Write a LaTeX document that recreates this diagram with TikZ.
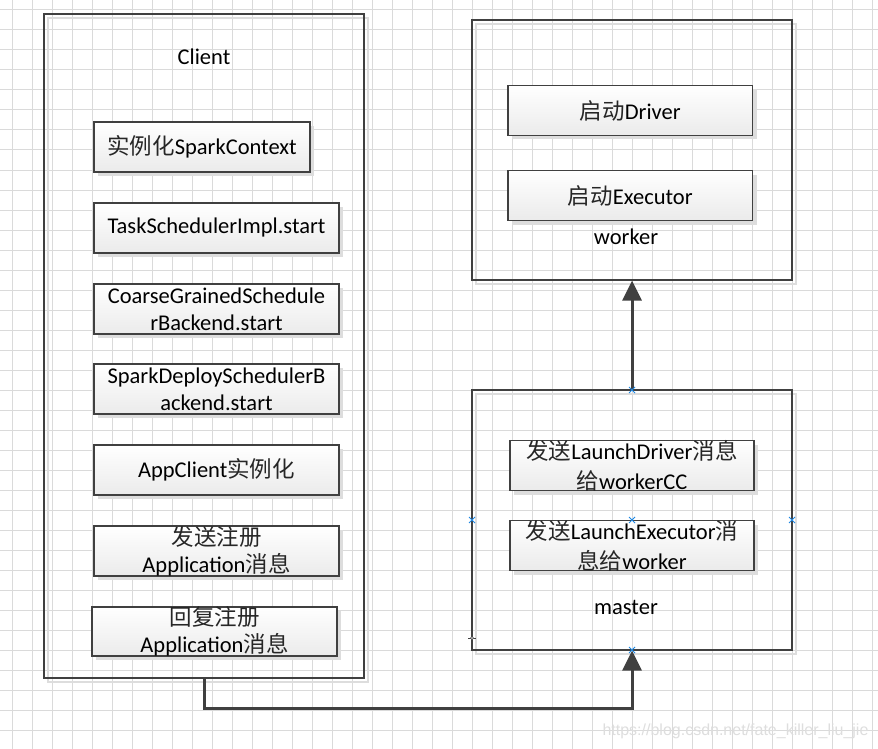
\documentclass[tikz,border=0pt]{standalone}
\usepackage{fontspec}
\setmainfont{Carlito}
\newfontfamily\cjk{Noto Sans CJK SC}
\newfontfamily\wmfont{Liberation Sans}
\usetikzlibrary{arrows.meta,shadows}
\definecolor{edge}{HTML}{404040}
\definecolor{gridc}{HTML}{DADADA}
\definecolor{shade}{HTML}{DDDDDD}
\definecolor{markblue}{HTML}{1E88E5}
\newcommand{\zh}[1]{{\cjk\color{black!85}#1}}
\begin{document}
\begin{tikzpicture}[x=1pt,y=-1pt,
  gridline/.style={draw=gridc,line width=1pt},
  outerbox/.style={draw=edge,line width=1.2pt,inner sep=0pt},
  outershadow/.style={draw=shade,line width=1.2pt},
  ibox/.style={draw=edge,line width=1.2pt,inner sep=0pt,top color=white,bottom color=black!8,
    drop shadow={shadow xshift=4pt,shadow yshift=-4pt,fill=shade,opacity=1}},
  itext/.style={align=center,inner sep=0pt,font=\fontsize{22.5}{27}\selectfont},
  itextzh/.style={align=center,inner sep=0pt,font=\fontsize{22.5}{30}\selectfont},
  title/.style={inner sep=0pt,font=\fontsize{22.5}{27}\selectfont},
  conn/.style={draw=edge,line width=3pt,-{Triangle[width=19pt,length=20pt]}},
  bluex/.style={draw=markblue,line width=1pt}]
\useasboundingbox (0,0) rectangle (878,749);
\fill[white] (0,0) rectangle (878,749);
% grid
\foreach \k in {0,...,43} \draw[gridline] (12.5+20*\k,0) -- (12.5+20*\k,749);
\foreach \k in {0,...,36} \draw[gridline] (0,10+20*\k) -- (878,10+20*\k);
% outer shadows
\draw[outershadow] (48,18) rectangle (368,682);
\draw[outershadow] (476,24) rectangle (796,284);
\draw[outershadow] (476,394) rectangle (796,654);
% outer boxes
\node[outerbox,minimum width=320pt,minimum height=664pt] (client) at (204,346) {};
\node[outerbox,minimum width=320pt,minimum height=260pt] (worker) at (632,150) {};
\node[outerbox,minimum width=320pt,minimum height=260pt] (master) at (632,520) {};
\node[title] (clientlbl) at (204,57) {Client};
\node[title] (workerlbl) at (626,237) {worker};
\node[title] (masterlbl) at (626,607) {master};
% client inner boxes
\node[ibox,minimum width=216pt,minimum height=50pt] (c1) at (202,147) {};
\node[itext] (c1t) at (c1) {\zh{实例化}SparkContext};
\node[ibox,minimum width=245pt,minimum height=50pt] (c2) at (216.5,228) {};
\node[itext] (c2t) at (c2) {TaskSchedulerImpl.start};
\node[ibox,minimum width=245pt,minimum height=50pt] (c3) at (216.5,309) {};
\node[itext] (c3t) at (c3) {CoarseGrainedSchedule\\rBackend.start};
\node[ibox,minimum width=245pt,minimum height=50pt] (c4) at (216.5,389) {};
\node[itext] (c4t) at (c4) {SparkDeploySchedulerB\\ackend.start};
\node[ibox,minimum width=245pt,minimum height=50pt] (c5) at (216.5,470) {};
\node[itext] (c5t) at (c5) {AppClient\zh{实例化}};
\node[ibox,minimum width=245pt,minimum height=50pt] (c6) at (216.5,551) {};
\node[itext] (c6t) at (c6) {\zh{发送注册}\\Application\zh{消息}};
\node[ibox,minimum width=245pt,minimum height=49pt] (c7) at (214.5,631.5) {};
\node[itext] (c7t) at (c7) {\zh{回复注册}\\Application\zh{消息}};
% worker inner boxes
\node[ibox,minimum width=244.5pt,minimum height=50pt] (w1) at (630.25,110.5) {};
\node[itext] (w1t) at (w1) {\zh{启动}Driver};
\node[ibox,minimum width=244.5pt,minimum height=50pt] (w2) at (630.25,195.5) {};
\node[itext] (w2t) at (w2) {\zh{启动}Executor};
% master inner boxes
\node[ibox,minimum width=244pt,minimum height=50pt] (m1) at (632,465.5) {};
\node[itextzh] (m1t) at (m1) {\zh{发送}LaunchDriver\zh{消息}\\\zh{给}workerCC};
\node[ibox,minimum width=244pt,minimum height=50pt] (m2) at (632,545.5) {};
\node[itextzh] (m2t) at (m2) {\zh{发送}LaunchExecutor\zh{消}\\\zh{息给}worker};
% connectors
\draw[conn] (client.south) -- ++(0,30) -| (master.south);
\draw[conn] (master.north) -- (worker.south);
% selection markers
\foreach \mx/\my in {632/390,472/520,792/520,632/520,632/650}{
  \draw[bluex] (\mx-3,\my-3) -- (\mx+3,\my+3) (\mx-3,\my+3) -- (\mx+3,\my-3);
}
\coordinate (cursor) at (472,638);
\draw[edge,line width=0.6pt] (cursor) ++(-4,0) -- ++(8,0) (cursor) ++(0,-4) -- ++(0,8);
\draw[edge,line width=0.6pt,fill=white] (cursor) circle (1.5pt);
% watermark
\node[inner sep=0pt,font=\wmfont\fontsize{16}{16}\selectfont,text=black!13] (wm) at (735.5,731.5) {https://blog.csdn.net/fate\_killer\_liu\_jie};
\end{tikzpicture}
\end{document}
